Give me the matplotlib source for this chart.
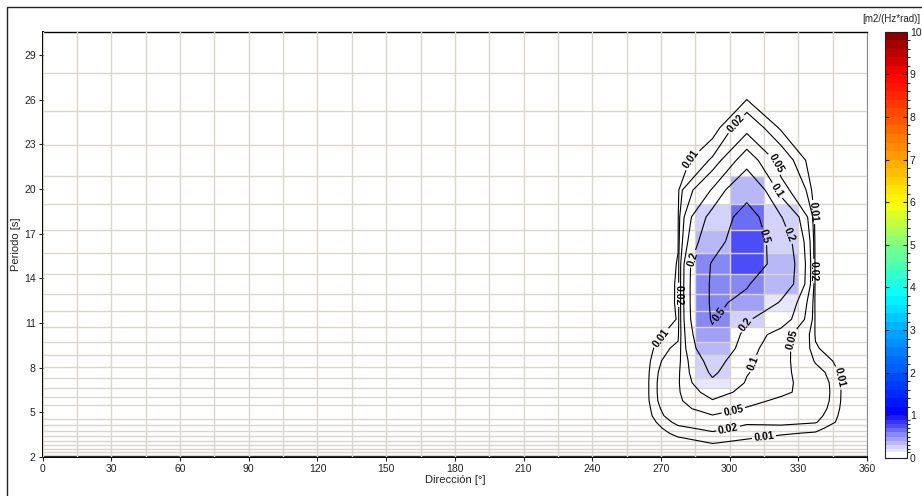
import numpy as np
import matplotlib
matplotlib.use('Agg')
import matplotlib.pyplot as plt
from matplotlib.colors import ListedColormap, BoundaryNorm, LinearSegmentedColormap
from matplotlib.cm import ScalarMappable
from matplotlib.patches import Rectangle

plt.rcParams['font.family'] = ['Liberation Sans', 'DejaVu Sans']

# spectral bins
period_edges = [30.58, 27.80, 25.27, 22.98, 20.89, 18.99, 17.26, 15.69, 14.27, 12.97,
                11.79, 10.72, 9.74, 8.86, 8.05, 7.32, 6.66, 6.05, 5.50, 5.00,
                4.55, 4.13, 3.76, 3.42, 3.10, 2.82, 2.57, 2.33, 2.12, 1.93]
dir_edges = [255, 270, 285, 300, 315, 330, 345, 360]

# energy density [m2/(Hz*rad)] per direction bin, long periods first
e_262 = [0.0005, 0.0005, 0.001, 0.001, 0.001, 0.001, 0.001, 0.001, 0.001, 0.0015,
         0.002, 0.003, 0.004, 0.004, 0.004, 0.004, 0.004, 0.004, 0.003, 0.003,
         0.002, 0.002, 0.001, 0.001, 0.001, 0.001, 0.0005, 0.0005, 0.0005]
e_277 = [0.0005, 0.001, 0.002, 0.004, 0.008, 0.009, 0.0095, 0.0105, 0.011, 0.011,
         0.0105, 0.0153, 0.025, 0.035, 0.042, 0.045, 0.045, 0.043, 0.038, 0.032,
         0.024, 0.017, 0.013, 0.009, 0.006, 0.004, 0.003, 0.002, 0.001]
e_292 = [0.0008, 0.002, 0.004, 0.022, 0.105, 0.244, 0.33, 0.53, 0.55, 0.55,
         0.53, 0.44, 0.36, 0.258, 0.22, 0.18, 0.13, 0.095, 0.068, 0.048,
         0.033, 0.024, 0.018, 0.014, 0.0105, 0.008, 0.005, 0.003, 0.002]
e_307 = [0.001, 0.004, 0.032, 0.135, 0.355, 0.665, 0.78, 0.75, 0.52, 0.44,
         0.21, 0.145, 0.12, 0.11, 0.104, 0.094, 0.08, 0.062, 0.047, 0.034,
         0.022, 0.017, 0.013, 0.0105, 0.008, 0.006, 0.004, 0.003, 0.002]
e_322 = [0.0008, 0.002, 0.008, 0.03, 0.065, 0.205, 0.29, 0.33, 0.31, 0.18,
         0.14, 0.07, 0.065, 0.062, 0.06, 0.06, 0.058, 0.042, 0.035, 0.03,
         0.024, 0.016, 0.011, 0.008, 0.006, 0.004, 0.003, 0.002, 0.001]
e_337 = [0.0005, 0.001, 0.001, 0.002, 0.003, 0.004, 0.005, 0.005, 0.006, 0.007,
         0.008, 0.009, 0.011, 0.018, 0.027, 0.032, 0.033, 0.032, 0.029, 0.025,
         0.021, 0.013, 0.009, 0.006, 0.004, 0.003, 0.002, 0.0015, 0.001]
e_352 = [0.001, 0.001, 0.001, 0.001, 0.001, 0.001, 0.001, 0.001, 0.001, 0.001,
         0.001, 0.0015, 0.002, 0.002, 0.002, 0.002, 0.002, 0.002, 0.002, 0.002,
         0.002, 0.0015, 0.001, 0.001, 0.001, 0.001, 0.001, 0.001, 0.001]

contour_levels = [0.01, 0.02, 0.05, 0.1, 0.2, 0.5]
y_ticks = [2, 5, 8, 11, 14, 17, 20, 23, 26, 29]
x_ticks = [0, 30, 60, 90, 120, 150, 180, 210, 240, 270, 300, 330, 360]

spec = np.column_stack([e_262, e_277, e_292, e_307, e_322, e_337, e_352])
pe = np.array(period_edges)
de = np.array(dir_edges)
pc = (pe[:-1] + pe[1:]) / 2
dc = (de[:-1] + de[1:]) / 2

# colour scale: pale blues up to 1, then jet-like up to 10
low_bounds = [0, 0.15, 0.2, 0.3, 0.4, 0.5, 0.6, 0.7, 0.8, 0.9, 1.0]
low_colors = ['#ffffff', '#e6e6fc', '#d2d2fa', '#b8b8f8', '#a0a0f6',
              '#8888f4', '#6c6cf4', '#4c4cf8', '#3434fc', '#1c1cff']
high_bounds = np.round(np.arange(1.2, 10.01, 0.2), 2)
jet = LinearSegmentedColormap.from_list('jetlike', [
    (0.0, '#0000ff'), (1/9, '#0055ff'), (2/9, '#00aaff'), (2.8/9, '#00ffff'),
    (4/9, '#80ff80'), (5/9, '#ffff00'), (6/9, '#ffa500'), (7/9, '#ff5000'),
    (8/9, '#ff0000'), (1.0, '#800000')])
bounds = list(low_bounds) + list(high_bounds)
mids = (np.array(bounds[10:-1]) + np.array(bounds[11:])) / 2
high_colors = [jet((m - 1) / 9) for m in mids]
cmap = ListedColormap(low_colors + high_colors)
norm = BoundaryNorm(bounds, cmap.N)

fig = plt.figure(figsize=(9.22, 4.96), dpi=100)
W, H = 922, 496
ax = fig.add_axes([42.7 / W, 1 - 457 / H, (867 - 42.7) / W, (457 - 31.7) / H])

grid_c = '#dad6ce'
ax.pcolormesh(de, pe, spec, cmap=cmap, norm=norm, zorder=1)

ax.set_xlim(0, 360)
ax.set_ylim(2, period_edges[0])
ax.set_xticks(x_ticks)
ax.set_xticks(np.arange(15, 360, 30), minor=True)
ax.set_yticks(y_ticks)
ax.set_yticks(period_edges[1:-1], minor=True)
ax.set_axisbelow(False)
ax.grid(True, which='both', axis='x', color=grid_c, lw=1.0)
ax.grid(True, which='minor', axis='y', color=grid_c, lw=1.0)
ax.tick_params(which='minor', length=0)
ax.tick_params(which='major', length=3, width=0.8, labelsize=7.5, colors='#222222', pad=2)

cs = ax.contour(dc, pc[::-1], spec[::-1], levels=contour_levels,
                colors='black', linewidths=0.8, zorder=3)
label_spots = [(283, 22.0), (339, 18.5), (271, 9.9), (347, 7.3), (315, 3.35),
               (302, 24.5), (277.3, 12.9), (336.5, 14.5), (299.5, 3.8),
               (318, 21.6), (326.5, 9.9), (302, 4.9),
               (320.6, 19.9), (311.9, 8.2),
               (284.2, 15.3), (327.5, 17.0), (307.5, 10.9),
               (314.5, 16.8), (296, 11.5)]
labels = ax.clabel(cs, inline=True, inline_spacing=2, fontsize=7.5,
                   fmt=lambda v: f'{v:g}', manual=label_spots)
for t in labels:
    t.set_fontweight('bold')
    t.set_zorder(4)

for s in ['left', 'bottom', 'top']:
    ax.spines[s].set_color('black')
ax.spines['left'].set_linewidth(1.4)
ax.spines['bottom'].set_linewidth(1.4)
ax.spines['top'].set_linewidth(1.0)
ax.spines['right'].set_color('#8a8a8a')

ax.set_xlabel('Dirección [°]', fontsize=8, color='#222222', labelpad=1)
ax.set_ylabel('Periodo [s]', fontsize=8, color='#222222', labelpad=2)

# colour bar
cax = fig.add_axes([885 / W, 1 - 458 / H, 22 / W, (458 - 31.7) / H])
sm = ScalarMappable(norm=norm, cmap=cmap)
cb = fig.colorbar(sm, cax=cax, spacing='proportional', ticks=range(0, 11))
cb.outline.set_linewidth(0.8)
cb.outline.set_edgecolor('#222222')
cax.tick_params(direction='in', length=3, width=0.8, left=True, right=True,
                labelsize=7.5, colors='#222222', pad=2)
fig.text(920 / W, 1 - 19 / H, '[m2/(Hz*rad)]', ha='right', va='center',
         fontsize=7, color='#222222')

# outer frame
fig.add_artist(Rectangle((7 / W, -0.1), 1.2, 1.1 - 7 / H, transform=fig.transFigure,
                         fill=False, ec='#222222', lw=1.0))

fig.savefig('out.png', dpi=100)
